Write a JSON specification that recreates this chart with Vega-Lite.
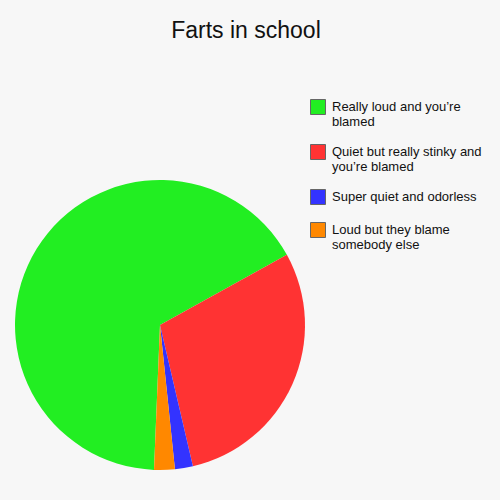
{
  "$schema": "https://vega.github.io/schema/vega-lite/v6.json",
  "autosize": {"type": "none"},
  "width": 290,
  "height": 290,
  "padding": {"left": 15, "top": 180, "right": 195, "bottom": 30},
  "background": "#f7f7f7",
  "title": {
    "text": "Farts in school",
    "font": "Liberation Sans",
    "fontSize": 23,
    "fontWeight": "normal",
    "color": "#111111",
    "anchor": "middle",
    "offset": 56,
    "dx": 86
  },
  "data": {
    "values": [
      {"idx": 1, "category": "Really loud and you’re blamed", "value": 66.3},
      {"idx": 2, "category": "Quiet but really stinky and you’re blamed", "value": 29.4},
      {"idx": 3, "category": "Super quiet and odorless", "value": 2.0},
      {"idx": 4, "category": "Loud but they blame somebody else", "value": 2.3}
    ]
  },
  "mark": {"type": "arc", "stroke": null},
  "encoding": {
    "theta": {
      "field": "value",
      "type": "quantitative",
      "stack": true,
      "scale": {"range": [3.183, 9.466]}
    },
    "order": {"field": "idx", "type": "quantitative"},
    "color": {
      "field": "category",
      "type": "nominal",
      "scale": {
        "domain": [
          "Really loud and you’re blamed",
          "Quiet but really stinky and you’re blamed",
          "Super quiet and odorless",
          "Loud but they blame somebody else"
        ],
        "range": ["#22ee22", "#ff3333", "#3333ff", "#ff8800"]
      },
      "legend": {
        "title": null,
        "orient": "none",
        "legendX": 295,
        "legendY": -81,
        "symbolType": "square",
        "symbolSize": 225,
        "symbolStrokeColor": "#666666",
        "symbolStrokeWidth": 1,
        "symbolOpacity": 1,
        "labelFont": "Liberation Sans",
        "labelFontSize": 13,
        "labelColor": "#111111",
        "labelLimit": 200,
        "labelOffset": 6,
        "labelLineHeight": 16.5,
        "rowPadding": 13,
        "labelExpr": "datum.label == 'Really loud and you’re blamed' ? ['Really loud and you’re', 'blamed'] : datum.label == 'Quiet but really stinky and you’re blamed' ? ['Quiet but really stinky and', 'you’re blamed'] : datum.label == 'Loud but they blame somebody else' ? ['Loud but they blame', 'somebody else'] : datum.label"
      }
    }
  },
  "config": {"view": {"stroke": null}}
}
